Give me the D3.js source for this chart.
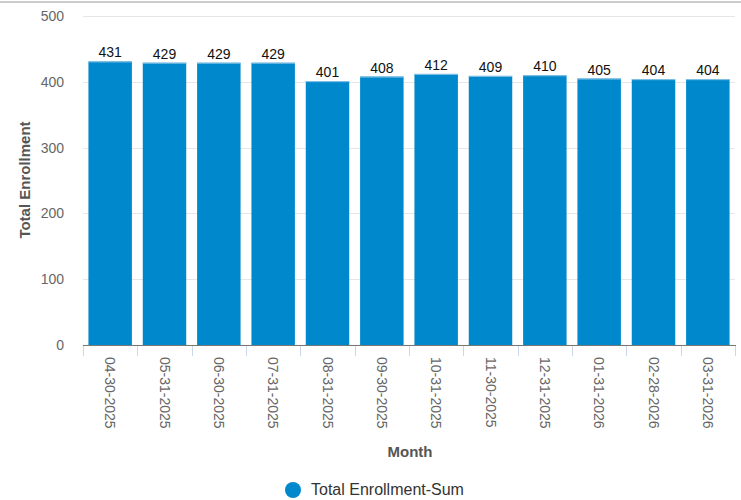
<!DOCTYPE html>
<html><head><meta charset="utf-8">
<script src="https://cdn.jsdelivr.net/npm/d3@7"></script>
<style>html,body{margin:0;padding:0;background:#fff;}svg{display:block;font-family:"Liberation Sans",Arial,sans-serif;}</style>
</head><body>
<svg id="c" width="741" height="500"></svg>
<script>
const months = ["04-30-2025","05-31-2025","06-30-2025","07-31-2025","08-31-2025","09-30-2025","10-31-2025","11-30-2025","12-31-2025","01-31-2026","02-28-2026","03-31-2026"];
const enrollment = [431,429,429,429,401,408,412,409,410,405,404,404];
const yTicks = [0,100,200,300,400,500];
const seriesName = "Total Enrollment-Sum";

(function(){
const svg = d3.select("#c");
const pL = 83, pR = 735, pT = 16, pB = 345;

svg.append("line").attr("x1",0).attr("x2",741).attr("y1",2).attr("y2",2)
  .attr("stroke","#cccccc").attr("stroke-width",2);

const x = d3.scaleBand().domain(months).range([pL,pR]).paddingInner(0.2).paddingOuter(0.1);
const y = d3.scaleLinear().domain([0,500]).range([pB,pT]);

svg.append("g").selectAll("line").data(yTicks.filter(d=>d>0)).join("line")
  .attr("x1",pL).attr("x2",pR).attr("y1",d=>Math.round(y(d))+0.5).attr("y2",d=>Math.round(y(d))+0.5)
  .attr("stroke","#e6e6e6").attr("stroke-width",1);

svg.append("g").selectAll("text").data(yTicks).join("text")
  .attr("x",64).attr("y",d=>y(d)+5).attr("text-anchor","end")
  .attr("font-size",14).attr("fill","#666666").text(d=>d);

svg.append("line").attr("x1",pL).attr("x2",pR+1).attr("y1",pB+0.5).attr("y2",pB+0.5)
  .attr("stroke","#777777").attr("stroke-width",1);

const tickPos = d3.range(months.length+1).map(i => pL + i*(pR-pL)/months.length);
svg.append("g").selectAll("line").data(tickPos).join("line")
  .attr("x1",d=>Math.round(d)+0.5).attr("x2",d=>Math.round(d)+0.5)
  .attr("y1",pB+1).attr("y2",pB+11)
  .attr("stroke","#ccd6eb").attr("stroke-width",1);

svg.append("g").selectAll("rect").data(months).join("rect")
  .attr("x",d=>x(d)).attr("width",x.bandwidth())
  .attr("y",(d,i)=>y(enrollment[i])).attr("height",(d,i)=>pB - y(enrollment[i]))
  .attr("fill","#0088cc");
svg.append("g").selectAll("line").data(months).join("line")
  .attr("x1",d=>x(d)).attr("x2",d=>x(d)+x.bandwidth())
  .attr("y1",(d,i)=>y(enrollment[i])+0.5).attr("y2",(d,i)=>y(enrollment[i])+0.5)
  .attr("stroke","#8cc4e6").attr("stroke-width",1);

svg.append("g").selectAll("text").data(months).join("text")
  .attr("x",d=>x(d)+x.bandwidth()/2).attr("y",(d,i)=>y(enrollment[i])-4)
  .attr("text-anchor","middle").attr("font-size",14).attr("fill","#111")
  .text((d,i)=>enrollment[i]);

svg.append("g").selectAll("text").data(months).join("text")
  .attr("transform",d=>`translate(${x(d)+x.bandwidth()/2-5},${pB+12}) rotate(90)`)
  .attr("text-anchor","start").attr("font-size",14).attr("fill","#666666")
  .text(d=>d);

svg.append("text").attr("x",410).attr("y",457).attr("text-anchor","middle")
  .attr("font-size",15).attr("font-weight","bold").attr("fill","#555555").text("Month");
svg.append("text").attr("transform",`translate(30,180) rotate(-90)`)
  .attr("text-anchor","middle").attr("font-size",15).attr("font-weight","bold")
  .attr("fill","#555555").text("Total Enrollment");

svg.append("circle").attr("cx",293).attr("cy",490).attr("r",8).attr("fill","#0088cc");
svg.append("text").attr("x",311).attr("y",495).attr("font-size",16).attr("fill","#333333").text(seriesName);
})();
</script>
</body></html>
